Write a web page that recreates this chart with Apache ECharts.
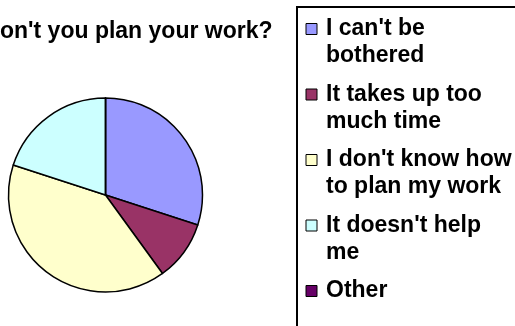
<!DOCTYPE html>
<html>
<head>
<meta charset="utf-8">
<script src="https://cdn.jsdelivr.net/npm/echarts@6/dist/echarts.min.js"></script>
<style>
html,body{margin:0;padding:0;background:#fff;}
#chart{width:515px;height:326px;}
</style>
</head>
<body>
<div id="chart"></div>
<script>
var titleText = "Why don't you plan your work?";
var categories = ["I can't be bothered", "It takes up too much time", "I don't know how to plan my work", "It doesn't help me", "Other"];
var legendLabels = ["I can't be\nbothered", "It takes up too\nmuch time", "I don't know how\nto plan my work", "It doesn't help\nme", "Other"];
var values = [3, 1, 4, 2, 0];
var colors = ["#9999FF", "#993366", "#FFFFCC", "#CCFFFF", "#660066"];

var FONT = "'Liberation Sans', Arial, sans-serif";
var chart = echarts.init(document.getElementById('chart'), null, {renderer: 'canvas'});

// two-line entries: square sits at the top of a 11x38 icon box (aligned with first text line)
var ICON_TOP = 'path://M0,0h11v11h-11zM0,38';
// single-line entry: plain square, kept square and centred
var ICON_MID = 'path://M0,0h11v11h-11z';

var legendData = categories.map(function (c, i) {
  var twoLine = legendLabels[i].indexOf('\n') >= 0;
  return twoLine ? {name: c, icon: ICON_TOP} : {name: c, icon: ICON_MID, symbolKeepAspect: true};
});

chart.setOption({
  animation: false,
  backgroundColor: '#fff',
  color: colors,
  title: {
    text: titleText,
    left: -69,
    top: 20,
    padding: 0,
    textStyle: {fontFamily: FONT, fontWeight: 'bold', fontSize: 23, color: '#000'}
  },
  legend: {
    orient: 'vertical',
    left: 305.5,
    top: 15.5,
    padding: 0,
    itemGap: 11.5,
    itemWidth: 11,
    itemHeight: 38,
    selectedMode: false,
    itemStyle: {borderColor: '#000', borderWidth: 1},
    data: legendData,
    formatter: function (name) { return legendLabels[categories.indexOf(name)]; },
    textStyle: {fontFamily: FONT, fontWeight: 'bold', fontSize: 23, lineHeight: 27, color: '#000', padding: [0, 0, 0, 4]}
  },
  graphic: [{
    type: 'rect',
    shape: {x: 297, y: 7, width: 300, height: 400},
    style: {fill: 'none', stroke: '#000', lineWidth: 2},
    silent: true
  }],
  series: [{
    type: 'pie',
    center: [105.5, 195],
    radius: 97,
    startAngle: 90,
    clockwise: true,
    label: {show: false},
    labelLine: {show: false},
    emphasis: {disabled: true},
    itemStyle: {borderColor: '#000', borderWidth: 1.5},
    data: categories.map(function (c, i) { return {name: c, value: values[i]}; })
  }]
});
</script>
</body>
</html>
